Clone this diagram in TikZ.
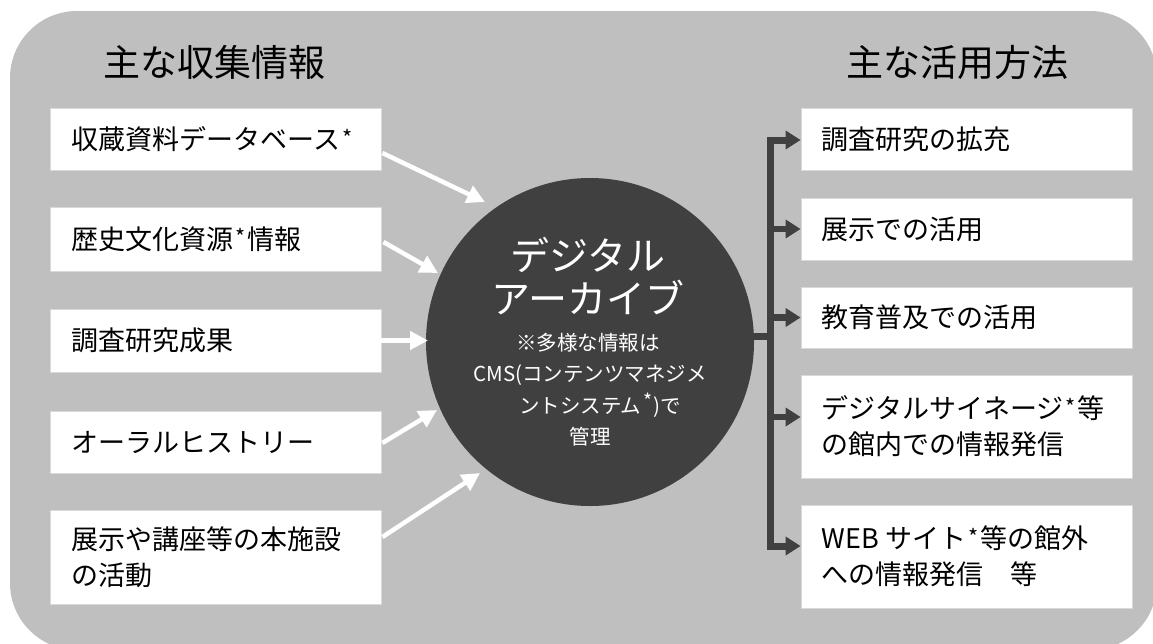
\documentclass[tikz,border=0pt]{standalone}
\usepackage{fontspec}
\setmainfont{Noto Sans CJK JP}
\usepackage{graphicx}
\usetikzlibrary{arrows.meta,calc}
\definecolor{bg}{HTML}{BFBFBF}
\definecolor{dk}{HTML}{404040}
\definecolor{edgegray}{HTML}{D9D9D9}
\newcommand\sast{\hspace{0.08em}\raisebox{0.12em}{\scalebox{0.8}{*}}\hspace{0.06em}}
\begin{document}
\begin{tikzpicture}[x=1pt,y=-1pt,
  box/.style={draw=edgegray, line width=0.8pt, fill=white, minimum width=331pt, inner sep=0pt},
  txt/.style={anchor=west, inner sep=0pt, align=left, font=\fontsize{27}{36}\selectfont, text=black},
  ttl/.style={inner sep=0pt, font=\fontsize{37}{40}\selectfont, text=black},
  bigt/.style={inner sep=0pt, font=\fontsize{39}{42}\selectfont, text=white},
  smt/.style={inner sep=0pt, font=\fontsize{20.5}{24}\selectfont, text=white},
  inarrow/.style={white, line width=4.5pt, -{Triangle[length=18pt,width=18pt]}},
  outarrow/.style={dk, line width=6.5pt, -{Triangle[length=15pt,width=18pt]}},
  busline/.style={dk, line width=7pt}
]
\useasboundingbox (0,0) rectangle (1153,643);
\fill[bg, rounded corners=67pt] (10,11) rectangle (1157,650);

% titles
\node[ttl] (T1) at (214,62) {主な収集情報};
\node[ttl] (T2) at (957,62) {主な活用方法};

% left boxes
\node[box, minimum height=62pt] (L1) at (215.5,139) {};
\node[box, minimum height=64pt] (L2) at (215.5,239) {};
\node[box, minimum height=63pt] (L3) at (215.5,340.5) {};
\node[box, minimum height=62pt] (L4) at (215.5,442) {};
\node[box, minimum height=94pt] (L5) at (215.5,557) {};
\node[txt] (L1t) at ($(L1.west)+(22,0)$) {収蔵資料データベース\sast};
\node[txt] (L2t) at ($(L2.west)+(22,0)$) {歴史文化資源\sast 情報};
\node[txt] (L3t) at ($(L3.west)+(22,0)$) {調査研究成果};
\node[txt] (L4t) at ($(L4.west)+(22,0)$) {オーラルヒストリー};
\node[txt] (L5t) at ($(L5.west)+(22,0)$) {展示や講座等の本施設\\の活動};

% right boxes
\node[box, minimum height=62pt] (R1) at (966.5,139) {};
\node[box, minimum height=62pt] (R2) at (966.5,229) {};
\node[box, minimum height=61pt] (R3) at (966.5,317.5) {};
\node[box, minimum height=103pt] (R4) at (966.5,426.5) {};
\node[box, minimum height=103pt] (R5) at (966.5,556.5) {};
\node[txt] (R1t) at ($(R1.west)+(21,0)$) {調査研究の拡充};
\node[txt] (R2t) at ($(R2.west)+(21,0)$) {展示での活用};
\node[txt] (R3t) at ($(R3.west)+(21,0)$) {教育普及での活用};
\node[txt] (R4t) at ($(R4.west)+(21,0)$) {デジタルサイネージ\sast 等\\の館内での情報発信};
\node[txt] (R5t) at ($(R5.west)+(21,0)$) {WEB サイト\sast 等の館外\\への情報発信　等};

% central circle
\node[circle, fill=dk, minimum size=328pt, inner sep=0pt] (C) at (590,342) {};
\node[bigt] (c1) at ($(C.center)+(-2,-87)$) {デジタル};
\node[bigt] (c2) at ($(C.center)+(-2,-44)$) {アーカイブ};
\node[smt] (c3) at ($(C.center)+(-2,1)$) {※多様な情報は};
\node[smt] (c4) at ($(C.center)+(0,33)$) {CMS(コンテンツマネジメ};
\node[smt] (c5) at ($(C.center)+(10,63)$) {ントシステム\hspace{0.1em}\raisebox{0.25em}{\scalebox{0.95}{*}}\hspace{0.05em})で};
\node[smt] (c6) at ($(C.center)+(0,95)$) {管理};

% incoming arrows
\coordinate (t1) at (485,202);
\coordinate (t2) at (438,273);
\coordinate (t3) at (428,340.5);
\coordinate (t4) at (437,410);
\coordinate (t5) at (480,473);
\draw[inarrow] ($(L1.east)+(1,14)$) -- (t1);
\draw[inarrow] ($(L2.east)+(2,3)$) -- (t2);
\draw[inarrow] (L3.east) -- (t3);
\draw[inarrow] ($(L4.east)+(1,1)$) -- (t4);
\draw[inarrow] ($(L5.east)+(1,-20)$) -- (t5);

% outgoing bus
\coordinate (bt) at (770,140);
\coordinate (bb) at (770,546);
\coordinate (b4) at (770,417);
\draw[busline] (C.2) -- (bt |- C.2);
\draw[outarrow, line width=7pt] (bb) -- (bt) -- (bt -| R1.west);
\draw[outarrow, line width=7pt] (bt) -- (bb) -- (bb -| R5.west);
\draw[outarrow] (bt |- R2.west) -- (R2.west);
\draw[outarrow] (bt |- R3.west) -- (R3.west);
\draw[outarrow] (b4) -- (b4 -| R4.west);
\end{tikzpicture}
\end{document}
